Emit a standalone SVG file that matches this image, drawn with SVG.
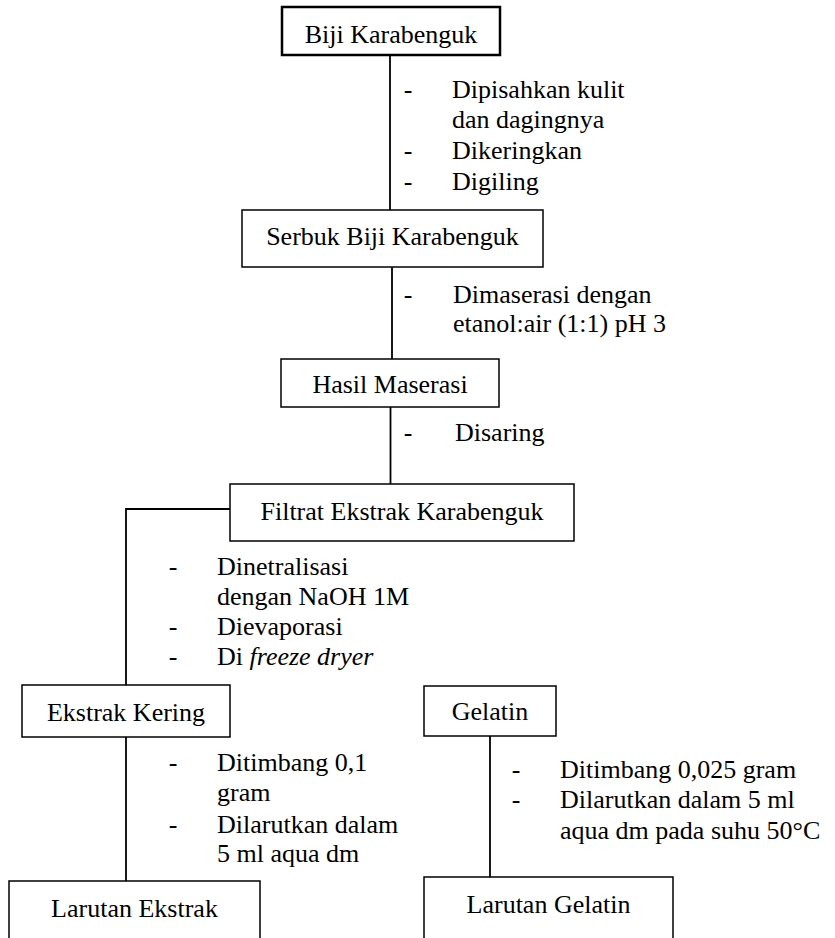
<svg xmlns="http://www.w3.org/2000/svg" width="835" height="938" viewBox="0 0 835 938">
<style>
text{font-family:"Liberation Serif","Times New Roman",serif;font-size:26px;fill:#000}
.c{text-anchor:middle}
.d{text-anchor:middle}
.box{fill:#fff;stroke:#000;stroke-width:1.5}
.thick{stroke-width:2.5}
#connectors line,#connectors polyline{stroke:#000;stroke-width:1.8;fill:none}
</style>
<rect x="0" y="0" width="835" height="938" style="fill:#fff;stroke:none"/>
<g id="connectors">
<line x1="390" y1="55" x2="390" y2="210"/>
<line x1="392" y1="267" x2="392" y2="359"/>
<line x1="390.5" y1="407" x2="390.5" y2="484"/>
<polyline points="230,509 126,509 126,685"/>
<line x1="126" y1="737" x2="126" y2="881"/>
<line x1="490" y1="736" x2="490" y2="877"/>
</g>
<g id="n1">
<rect class="box thick" x="282" y="7" width="218" height="48"/>
<text class="c" x="391" y="43">Biji Karabenguk</text>
</g>
<g id="s1">
<text class="d" x="408" y="98">-</text>
<text x="452" y="98">Dipisahkan kulit</text>
<text x="452" y="128">dan dagingnya</text>
<text class="d" x="408" y="159">-</text>
<text x="452" y="159">Dikeringkan</text>
<text class="d" x="408" y="190">-</text>
<text x="452" y="190">Digiling</text>
</g>
<g id="n2">
<rect class="box" x="242" y="210" width="301" height="57"/>
<text class="c" x="392.5" y="245">Serbuk Biji Karabenguk</text>
</g>
<g id="s2">
<text class="d" x="408" y="303">-</text>
<text x="453" y="303">Dimaserasi dengan</text>
<text x="453" y="332">etanol:air (1:1) pH 3</text>
</g>
<g id="n3">
<rect class="box" x="281" y="359" width="218" height="48"/>
<text class="c" x="390" y="393">Hasil Maserasi</text>
</g>
<g id="s3">
<text class="d" x="408" y="441">-</text>
<text x="455" y="441">Disaring</text>
</g>
<g id="n4">
<rect class="box" x="230" y="484" width="344" height="57"/>
<text class="c" x="402" y="520">Filtrat Ekstrak Karabenguk</text>
</g>
<g id="s4">
<text class="d" x="173" y="575">-</text>
<text x="217" y="575">Dinetralisasi</text>
<text x="217" y="605">dengan NaOH 1M</text>
<text class="d" x="173" y="635">-</text>
<text x="217" y="635">Dievaporasi</text>
<text class="d" x="173" y="665">-</text>
<text x="217" y="665">Di <tspan font-style="italic">freeze dryer</tspan></text>
</g>
<g id="n5">
<rect class="box" x="22" y="685" width="208" height="52"/>
<text class="c" x="126" y="721">Ekstrak Kering</text>
</g>
<g id="s5">
<text class="d" x="173" y="771">-</text>
<text x="217" y="771">Ditimbang 0,1</text>
<text x="217" y="801">gram</text>
<text class="d" x="173" y="833">-</text>
<text x="217" y="833">Dilarutkan dalam</text>
<text x="217" y="862">5 ml aqua dm</text>
</g>
<g id="n6">
<rect class="box" x="9" y="881" width="251" height="70"/>
<text class="c" x="134.5" y="917">Larutan Ekstrak</text>
</g>
<g id="n7">
<rect class="box" x="424" y="686" width="132" height="50"/>
<text class="c" x="490" y="720">Gelatin</text>
</g>
<g id="s7">
<text class="d" x="516" y="778">-</text>
<text x="560" y="778">Ditimbang 0,025 gram</text>
<text class="d" x="516" y="808">-</text>
<text x="560" y="808">Dilarutkan dalam 5 ml</text>
<text x="560" y="839">aqua dm pada suhu 50°C</text>
</g>
<g id="n8">
<rect class="box" x="424" y="877" width="249" height="70"/>
<text class="c" x="548.5" y="913">Larutan Gelatin</text>
</g>
</svg>
